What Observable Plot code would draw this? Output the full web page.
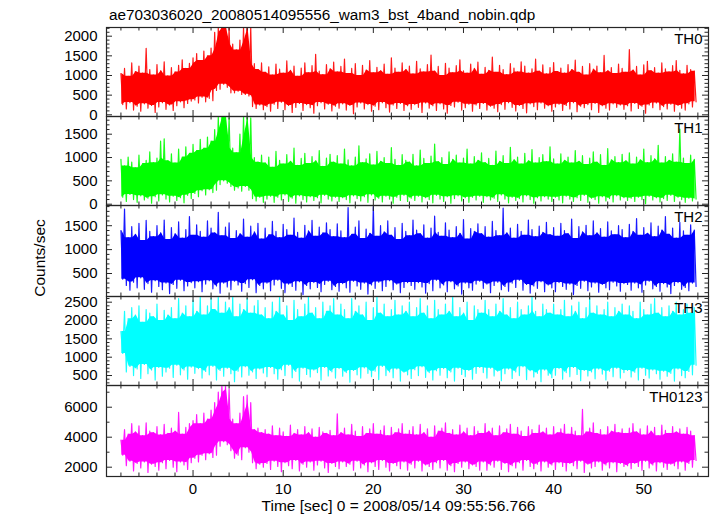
<!DOCTYPE html>
<html><head><meta charset="utf-8">
<script src="https://cdn.jsdelivr.net/npm/d3@7"></script>
<script src="https://cdn.jsdelivr.net/npm/@observablehq/plot@0.6"></script>
<style>
body{margin:0;background:#fff;}
#chart{position:relative;width:717px;height:516px;background:#fff;font-family:"Liberation Sans",Arial,Helvetica,sans-serif;color:#000;overflow:hidden}
.abs{position:absolute;white-space:nowrap;}
</style></head><body><div id="chart"></div>
<script>
// ---- data (light curve envelopes: per 0.4 s bin, a high and a low excursion) ----
const binStart = -8, binWidth = 0.4;
const titleText = "ae703036020_20080514095556_wam3_bst_4band_nobin.qdp";
const xLabelText = "Time [sec] 0 = 2008/05/14 09:55:56.766";
const yLabelText = "Counts/sec";
const panelNames = ["TH0", "TH1", "TH2", "TH3", "TH0123"];
const panelColors = ["#ff0000", "#00ff00", "#0000ff", "#00ffff", "#ff00ff"];
const xTicks = [0, 10, 20, 30, 40, 50];
const th0Ticks = [0, 500, 1000, 1500, 2000];
const th1Ticks = [0, 500, 1000, 1500];
const th2Ticks = [500, 1000, 1500];
const th3Ticks = [500, 1000, 1500, 2000, 2500];
const th0123Ticks = [2000, 4000, 6000];

const th0Hi = [
1050,1180,980,1320,1100,1240,1060,1690,1150,1010,1280,1120,1350,990,1200,1090,1260,1400,1180,1310,
1450,1560,1380,1620,1500,1700,2100,2400,2500,2450,2300,1800,1650,1900,2400,2500,2350,1300,1150,1320,
1080,1220,1010,1290,1160,1060,1370,1130,1240,980,1190,1320,1070,1250,1540,1110,1020,1280,1170,1340,
1090,1230,1420,1050,1180,1300,1000,1260,1140,1380,1070,1210,1120,1290,1030,1450,1190,1080,1320,1150,
1240,1040,1360,1170,1090,1280,1520,1110,1230,1000,1310,1190,1070,1250,1400,1120,1060,1290,1180,1340,
1030,1210,1130,1470,1080,1260,1150,1020,1300,1190,1090,1350,1240,1060,1170,1420,1110,1270,1040,1200,
1330,1100,1190,1060,1280,1150,1390,1080,1230,1010,1300,1160,1240,1070,1510,1120,1200,1050,1290,1180,
1080,1660,1140,1230,1010,1270,1360,1120,1200,1060,1320,1170,1090,1250,1380,1130,1040,1260,1150,1110];
const th0Lo = [
260,150,310,120,220,90,280,170,240,60,200,310,140,250,110,230,330,180,290,350,
380,300,450,330,420,360,620,650,780,700,560,560,600,520,520,480,210,160,250,130,
210,90,270,160,320,130,240,60,190,290,110,260,180,40,230,310,150,270,100,220,
170,280,120,240,30,200,300,150,260,90,220,130,310,180,70,250,160,290,110,230,
140,260,190,60,300,170,230,110,280,150,40,240,200,320,120,180,270,90,250,160,
290,120,220,170,80,260,140,310,190,100,240,160,50,280,210,130,300,170,230,90,
200,270,110,240,150,310,80,220,180,260,130,290,60,230,170,120,280,190,250,140,
230,100,290,160,220,40,250,180,300,130,210,150,270,90,240,170,120,280,200,330];

const th1Hi = [
960,820,1010,900,780,1050,870,940,1120,890,990,1350,1400,930,1080,880,1180,1010,1230,1090,
1280,1150,1390,1200,1440,1350,1600,1900,1950,1900,1850,1200,1100,1500,1900,1950,1850,1000,900,1050,
880,1010,790,1130,940,860,1060,920,1200,830,980,1090,870,1020,930,1150,810,990,1070,900,
1040,860,1180,950,820,1010,1250,890,970,1080,840,1130,920,1000,870,1210,960,830,1060,940,
900,1070,820,1160,980,870,1030,1290,910,1000,850,1120,960,1050,880,990,1180,860,1020,940,
1100,890,980,830,1140,920,1040,870,1220,950,1010,860,1090,930,1170,880,1000,1060,910,1230,
970,860,1080,940,1010,880,1150,920,1040,850,990,1120,900,1060,830,1190,950,1020,890,1070,
930,1100,860,1010,950,1180,890,1040,970,1260,880,1020,940,1080,900,1610,990,870,1050,960];
const th1Lo = [
150,60,210,100,40,180,90,130,20,160,70,200,110,50,170,80,140,30,190,120,
230,160,290,200,310,250,300,420,500,450,380,300,350,280,380,300,120,70,150,40,
110,170,40,150,90,200,60,130,20,180,100,50,160,80,140,30,190,110,70,150,
60,140,100,30,180,120,70,160,40,200,90,130,50,170,110,20,150,80,190,60,
130,80,170,50,140,100,30,190,110,60,160,20,120,180,70,140,40,150,90,170,
40,160,90,130,60,200,110,30,150,80,120,50,180,100,20,140,70,160,110,60,
150,90,30,170,110,60,140,80,190,40,130,100,20,160,70,120,50,180,90,140,
80,130,60,150,100,10,170,90,140,50,120,80,190,60,150,100,40,130,70,110];

const th2Hi = [
1400,1850,1250,1480,1320,1550,1190,1610,1380,1270,1500,1350,1620,1210,1460,1330,1580,1240,1420,1690,
1300,1520,1380,1260,1600,1450,1350,1780,1290,1470,1560,1230,1400,1330,1640,1260,1490,1370,1550,1220,
1450,1310,1590,1380,1250,1530,1420,1300,1660,1360,1240,1510,1390,1610,1280,1470,1350,1560,1420,1270,
1540,1390,1250,1880,1320,1470,1600,1230,1430,1340,1900,1280,1500,1370,1600,1300,1460,1210,1550,1380,
1290,1620,1410,1330,1520,1240,1450,1700,1360,1280,1560,1410,1250,1480,1340,1630,1220,1440,1380,1540,
1330,1480,1260,1590,1400,1290,1870,1350,1450,1240,1530,1380,1300,1620,1420,1270,1490,1360,1570,1310,
1460,1280,1550,1400,1330,1640,1230,1480,1370,1510,1290,1600,1350,1440,1260,1580,1390,1310,1500,1420,
1250,1530,1380,1650,1300,1460,1340,1560,1270,1490,1410,1690,1320,1450,1240,1570,1390,1300,1520,1410];
const th2Lo = [
380,250,150,320,200,410,170,290,110,350,230,160,300,80,270,190,360,140,240,310,
200,330,120,280,350,180,240,90,300,220,160,340,260,130,290,210,370,100,250,180,
300,140,260,360,190,100,280,230,150,330,60,250,180,310,210,120,270,340,160,230,
130,290,200,110,340,240,170,300,70,260,190,320,140,230,350,160,280,100,210,310,
250,170,310,220,90,290,140,360,200,260,120,330,180,240,70,300,200,150,280,340,
190,280,100,250,320,160,230,130,300,210,360,150,270,90,240,190,330,120,260,200,
120,310,230,170,280,60,250,190,340,140,220,300,110,270,200,160,320,240,130,290,
270,150,300,200,110,260,340,180,230,130,290,220,80,250,310,170,210,140,300,230];

const th3Hi = [
1700,2250,2050,2350,2150,2400,1950,2300,2200,2100,2450,2000,2280,2150,2350,2050,2600,2200,2400,2100,
2550,2250,2650,2150,2400,2600,2300,2700,2200,2500,2350,2650,2100,2450,2300,2600,2200,2400,2550,2150,
2350,2050,2500,2250,2650,2150,2400,2000,2550,2300,2100,2450,2650,2200,2350,2050,2500,2250,2400,2600,
2150,2450,2300,2050,2600,2250,2400,2150,2500,2000,2350,2650,2200,2450,2100,2300,2550,2150,2400,2250,
2500,2100,2350,2600,2200,2400,2050,2550,2300,2150,2450,2250,2650,2100,2350,2200,2500,2000,2400,2300,
2200,2550,2300,2100,2450,2250,2600,2150,2350,2050,2500,2300,2150,2400,2650,2250,2100,2450,2300,2200,
2450,2150,2300,2550,2100,2400,2250,2500,2050,2350,2600,2200,2400,2150,2300,2500,2100,2350,2250,2450,
2150,2400,2250,2050,2500,2300,2150,2450,2600,2200,2350,2100,2400,2250,2500,2150,2300,2450,2200,2350];
const th3Lo = [
1100,600,750,500,680,420,800,550,650,380,720,480,600,700,450,780,520,650,400,730,
560,690,430,610,520,750,380,640,480,700,550,330,620,460,740,510,600,420,680,570,
470,720,550,400,660,500,780,440,610,350,700,530,460,650,580,380,720,490,600,430,
690,480,580,320,640,520,430,710,560,470,620,390,750,500,600,440,680,350,590,520,
420,660,500,740,450,580,380,630,510,690,440,600,350,700,530,470,640,400,560,720,
580,430,700,490,620,360,550,680,420,600,500,740,390,630,460,560,330,650,510,440,
510,690,400,580,470,720,530,360,640,490,600,410,680,540,380,620,470,700,430,580,
640,460,590,380,700,510,430,650,550,400,620,480,560,350,680,500,440,610,520,780];

const th0123Hi = [
3800,4500,4200,4900,4350,4750,4100,4950,4400,4300,4700,4150,4850,4250,4600,4400,5650,4200,4650,4900,
5100,5500,4900,5600,5200,5800,6300,7000,7500,7400,7200,5200,4900,5600,6700,6800,6300,4500,4600,4300,
4500,4200,4750,4100,4600,4350,4050,4800,4250,4500,4150,4700,4300,4550,4000,4650,4350,4250,4450,4100,
5550,4300,4600,4150,4850,4400,4050,4700,4250,4550,4900,4200,4450,4750,4100,4650,4300,4550,4900,4200,
4450,4700,4150,4850,4300,4550,4000,4750,4400,4600,4950,4250,4500,4150,4800,4350,4600,4100,4700,4400,
4250,4900,4400,4600,4100,4750,4300,4550,4850,4200,4650,4400,4050,4700,4500,4250,4800,4350,4600,4150,
4700,4300,4550,4850,4200,4650,4400,4100,5850,4350,4600,4950,4250,4500,4150,4700,4400,4850,4300,4550,
4250,4600,4900,4350,4550,4150,4750,4400,4650,4100,4800,4450,4250,4700,4350,4550,4200,4650,4400,4100];
const th0123Lo = [
2800,2100,2400,1750,2250,1950,2350,1650,2200,2050,1800,2300,1900,2450,2000,1700,2350,2150,1850,2300,
2600,2350,2800,2500,2900,2650,2800,3400,3700,3500,3100,2600,2800,2500,3300,3000,2300,1900,2200,2000,
2250,1850,2400,2050,1700,2300,2100,1900,2450,1750,2200,2000,2350,1800,2150,2400,1950,1650,2250,2050,
1900,2350,2050,2200,1800,2400,1950,2150,1700,2300,2050,1850,2450,2000,1750,2250,2100,1900,2350,1800,
2200,1950,2400,1750,2150,2050,1850,2300,1950,2450,1800,2100,1700,2250,2000,2350,1900,2150,2050,1800,
2350,1800,2150,2000,2400,1850,2250,1700,2100,1950,2300,1800,2450,2050,1900,2200,1750,2350,2000,2150,
1850,2300,2050,1750,2250,2100,1900,2400,1650,2200,1950,2050,2350,1800,2150,1950,2300,1700,2250,2050,
2100,1900,2250,2050,1800,2400,1950,2150,1750,2300,2000,1850,2200,2100,1900,2350,1800,2250,2000,2450];

// ---- layout ----
const W = 717, ML = 106, MR = 9, PW = W - ML - MR;
const FONT = '"Liberation Sans", Arial, Helvetica, sans-serif';
const AX = "#262626";
const xDomain = [-9.60, 57.18];
const xMinor = d3.range(-8, 57, 2).filter(d => d % 10 !== 0);

// zig-zag trace through the high and low excursion of each bin
function zigzag(hi, lo) {
  const pts = [];
  for (let i = 0; i < hi.length; i++) {
    const t = binStart + binWidth * i;
    pts.push({t, v: hi[i]});
    pts.push({t: t + binWidth / 2, v: lo[i]});
  }
  return pts;
}
// dense core of the trace: the range crossed by every excursion in a 3-bin window
function core(hi, lo) {
  const n = hi.length, out = [];
  for (let i = 0; i < n; i++) {
    const a = Math.max(0, i - 1), b = Math.min(n - 1, i + 1);
    out.push({
      t: binStart + binWidth * i + binWidth / 4,
      top: d3.min(hi.slice(a, b + 1)),
      bot: d3.max(lo.slice(a, b + 1))
    });
  }
  return out;
}

const panels = [
  {hi: th0Hi, lo: th0Lo, ticks: th0Ticks, minorStep: 100, domain: [-43, 2221], top: 27, h: 89},
  {hi: th1Hi, lo: th1Lo, ticks: th1Ticks, minorStep: 100, domain: [-28, 1879], top: 116, h: 89},
  {hi: th2Hi, lo: th2Lo, ticks: th2Ticks, minorStep: 100, domain: [19, 1923], top: 205, h: 91},
  {hi: th3Hi, lo: th3Lo, ticks: th3Ticks, minorStep: 100, domain: [228, 2655], top: 296, h: 89},
  {hi: th0123Hi, lo: th0123Lo, ticks: th0123Ticks, minorStep: 1000, domain: [1380, 7447], top: 385, h: 91}
];

const chart = document.getElementById("chart");

panels.forEach((p, k) => {
  const last = k === panels.length - 1;
  const h = p.h;
  const lo0 = Math.ceil(p.domain[0] / p.minorStep) * p.minorStep;
  const yMinor = d3.range(lo0, p.domain[1], p.minorStep).filter(v => !p.ticks.includes(v));
  const marks = [
    Plot.areaY(core(p.hi, p.lo), {x: "t", y1: "bot", y2: "top", fill: panelColors[k], clip: true}),
    Plot.line(zigzag(p.hi, p.lo), {x: "t", y: "v", stroke: panelColors[k], strokeWidth: 1.2, strokeOpacity: 0.9, clip: true}),
    Plot.tickX(xTicks, {x: d => d, insetBottom: h - 6, stroke: AX}),
    Plot.tickX(xTicks, {x: d => d, insetTop: h - 6, stroke: AX}),
    Plot.tickX(xMinor, {x: d => d, insetBottom: h - 3.5, stroke: AX}),
    Plot.tickX(xMinor, {x: d => d, insetTop: h - 3.5, stroke: AX}),
    Plot.tickY(p.ticks, {y: d => d, insetRight: PW - 6, stroke: AX}),
    Plot.tickY(p.ticks, {y: d => d, insetLeft: PW - 6, stroke: AX}),
    Plot.tickY(yMinor, {y: d => d, insetRight: PW - 3.5, stroke: AX}),
    Plot.tickY(yMinor, {y: d => d, insetLeft: PW - 3.5, stroke: AX}),
    Plot.frame({stroke: AX, strokeWidth: 1.2}),
    Plot.axisY(p.ticks, {anchor: "left", tickSize: 0, tickPadding: 9, tickFormat: d => String(d), label: null, fontSize: 15}),
    Plot.text([panelNames[k]], {text: d => d, frameAnchor: "top-right", dx: -6, dy: 6, fontSize: 15, fill: "#000"})
  ];
  if (last) marks.push(Plot.axisX(xTicks, {anchor: "bottom", tickSize: 0, tickPadding: 7, tickFormat: d => String(d), label: null, fontSize: 15}));
  const svg = Plot.plot({
    width: W, height: h,
    marginLeft: ML, marginRight: MR, marginTop: 0, marginBottom: 0,
    x: last ? {domain: xDomain} : {domain: xDomain, axis: null},
    y: {domain: p.domain, clamp: true},
    style: {overflow: "visible", background: "transparent", fontFamily: FONT, fontSize: "15px", color: "#000"},
    marks
  });
  const d = document.createElement("div");
  d.className = "abs";
  d.style.left = "0px";
  d.style.top = p.top + "px";
  d.appendChild(svg);
  chart.appendChild(d);
});

function addText(txt, css) {
  const d = document.createElement("div");
  d.className = "abs";
  d.textContent = txt;
  Object.assign(d.style, css);
  chart.appendChild(d);
}
addText(titleText, {left: "109px", top: "6.5px", fontSize: "15.3px", lineHeight: "15px"});
addText(xLabelText, {left: "398.5px", top: "498px", fontSize: "15.5px", lineHeight: "15.5px", transform: "translateX(-50%)"});
addText(yLabelText, {left: "40px", top: "257.5px", fontSize: "15.5px", lineHeight: "15.5px", transform: "translate(-50%,-50%) rotate(-90deg)"});
</script></body></html>
